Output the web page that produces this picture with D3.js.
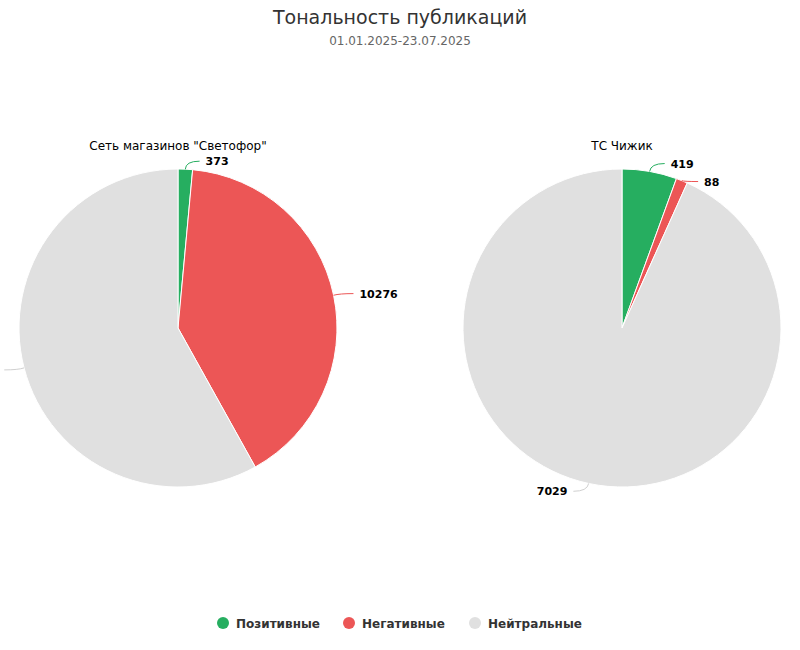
<!DOCTYPE html>
<html><head><meta charset="utf-8">
<script src="https://cdn.jsdelivr.net/npm/d3@7"></script>
<style>body{margin:0;background:#fff}text{font-family:"DejaVu Sans",sans-serif}</style>
</head><body><svg id="c" width="800" height="650"></svg>
<script>
var categories = ["Позитивные", "Негативные", "Нейтральные"];
var colors = ["#26ae60", "#ec5656", "#e0e0e0"];
var pieNames = ["Сеть магазинов \"Светофор\"", "ТС Чижик"];
var svetofor = [373, 10276, 14750];
var chizhik = [419, 88, 7029];
var series = [svetofor, chizhik];
var centersX = [178, 622];

var svg = d3.select("#c");
svg.append("text").attr("x", 400).attr("y", 24).attr("text-anchor", "middle")
  .attr("font-size", 19).attr("fill", "#333").text("Тональность публикаций");
svg.append("text").attr("x", 400).attr("y", 45).attr("text-anchor", "middle")
  .attr("font-size", 12).attr("fill", "#666").text("01.01.2025-23.07.2025");

var r = 159, cy = 328;
var pie = d3.pie().sort(null).value(function(d){ return d; });
var arc = d3.arc().innerRadius(0).outerRadius(r);

series.forEach(function(vals, i) {
  var g = svg.append("g").attr("transform", "translate(" + centersX[i] + "," + cy + ")");
  g.append("text").attr("y", -178).attr("text-anchor", "middle").attr("font-size", 12)
    .attr("fill", "#000").text(pieNames[i]);
  var arcs = pie(vals);
  g.selectAll("path.s").data(arcs).enter().append("path")
    .attr("d", arc).attr("fill", function(d, j){ return colors[j]; })
    .attr("stroke", "#fff").attr("stroke-width", 1);
  var lastY = {left: -1e9, right: -1e9};
  arcs.forEach(function(d, j) {
    var a = (d.startAngle + d.endAngle) / 2;
    var sx = Math.sin(a), sy = -Math.cos(a);
    var right = sx >= 0;
    var side = right ? "right" : "left";
    var ly = sy * (r + 8);
    if (ly < lastY[side] + 18) ly = lastY[side] + 18;
    lastY[side] = ly;
    var p0 = [sx * r, sy * r];
    var p1 = [sx * (r + 6), sy * (r + 6)];
    var p2 = [sx * (r + 6) + (right ? 14 : -14), ly];
    var color = colors[j] === "#e0e0e0" ? "#d0d0d0" : colors[j];
    g.append("path").attr("fill", "none").attr("stroke", color).attr("stroke-width", 1)
      .attr("d", "M" + p0 + "Q" + [p1[0], ly] + " " + p2);
    g.append("text").attr("x", p2[0] + (right ? 6 : -6)).attr("y", ly + 4)
      .attr("text-anchor", right ? "start" : "end").attr("font-size", 11)
      .attr("font-weight", "bold").attr("fill", "#000").text(vals[j]);
  });
});

var legend = svg.append("g").attr("transform", "translate(0,623)");
var lx = [223, 349, 475];
categories.forEach(function(c, j) {
  legend.append("circle").attr("cx", lx[j]).attr("cy", 0).attr("r", 6).attr("fill", colors[j]);
  legend.append("text").attr("x", lx[j] + 13).attr("y", 4.5).attr("font-size", 12)
    .attr("font-weight", "bold").attr("fill", "#333").text(c);
});
</script></body></html>
